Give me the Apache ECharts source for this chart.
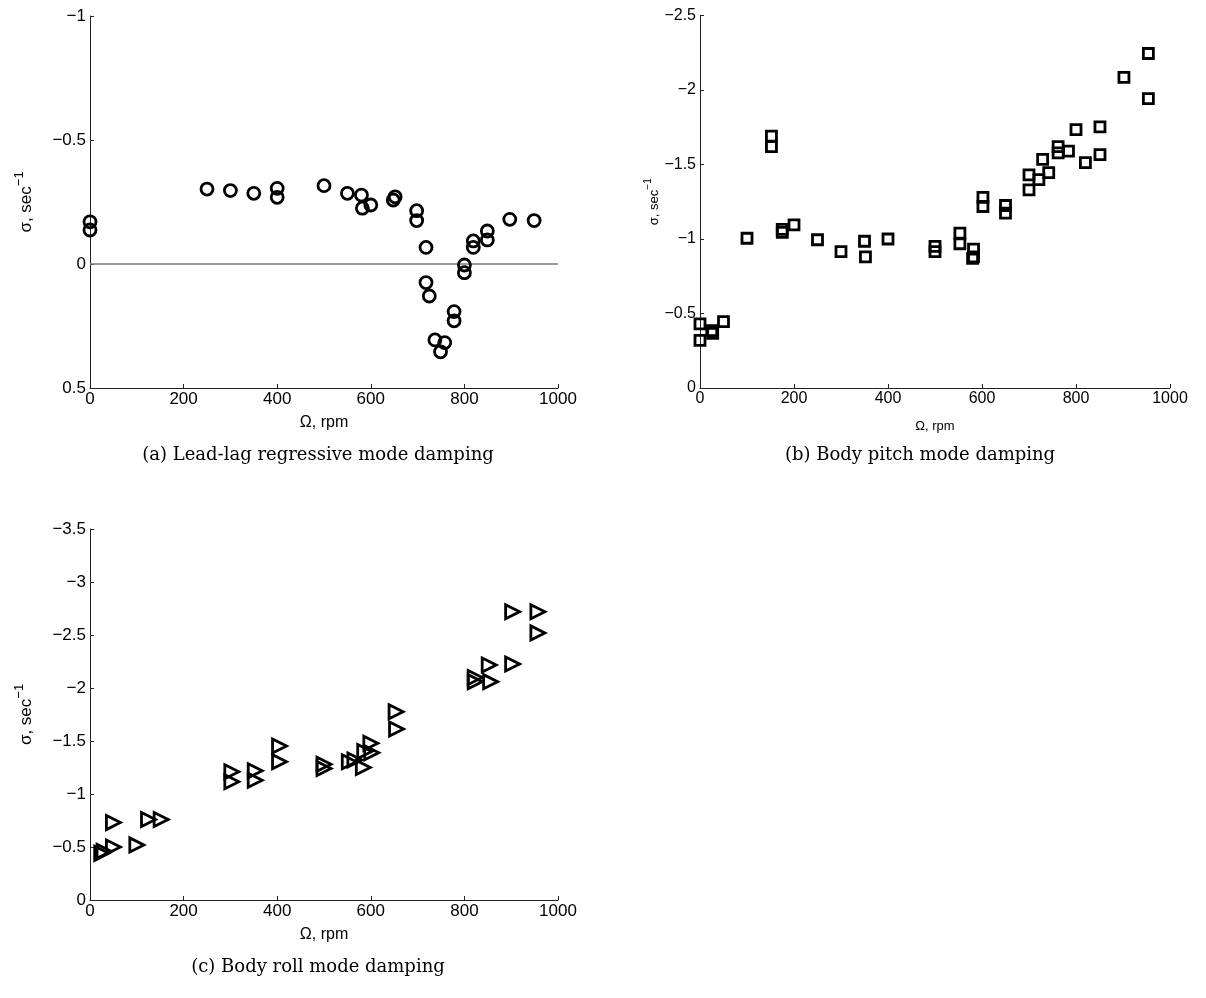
<!DOCTYPE html>
<html>
<head>
<meta charset="utf-8">
<script src="https://cdn.jsdelivr.net/npm/echarts@6/dist/echarts.min.js"></script>
<style>html,body{margin:0;padding:0;background:#fff;}#c{width:1206px;height:998px;}</style>
</head>
<body>
<div id="c"></div>
<script>
// Panel (a): lead-lag regressive mode damping  [rpm, sigma]
const leadLagData = [
  [0,-0.17],[0,-0.137],[250,-0.302],[300,-0.296],[350,-0.285],[400,-0.305],[400,-0.269],
  [500,-0.316],[550,-0.285],[580,-0.278],[582,-0.225],[600,-0.238],[648,-0.258],[652,-0.271],
  [698,-0.215],[698,-0.175],[718,-0.067],[718,0.075],[725,0.129],[737,0.306],[758,0.317],
  [749,0.354],[778,0.192],[778,0.229],[800,0.004],[800,0.035],[819,-0.093],[819,-0.067],
  [849,-0.133],[849,-0.097],[897,-0.18],[949,-0.175]
];
const zeroLine = [[0,0],[1000,0]];
// Panel (b): body pitch mode damping
const pitchData = [
  [0,-0.43],[0,-0.32],[25,-0.385],[27,-0.367],[50,-0.445],[100,-1.005],[175,-1.065],[175,-1.045],
  [200,-1.095],[250,-0.995],[300,-0.915],[350,-0.985],[352,-0.88],[400,-1.0],[500,-0.95],[500,-0.915],
  [152,-1.69],[152,-1.62],[553,-1.04],[553,-0.968],[582,-0.932],[582,-0.88],[580,-0.87],
  [602,-1.28],[602,-1.218],[650,-1.225],[650,-1.174],[700,-1.43],[700,-1.33],[721,-1.398],
  [729,-1.535],[742,-1.445],[762,-1.62],[762,-1.578],[784,-1.59],[800,-1.734],[820,-1.513],
  [851,-1.752],[851,-1.566],[902,-2.085],[954,-2.245],[954,-1.942]
];
// Panel (c): body roll mode damping
const rollData = [
  [25,-0.44],[30,-0.46],[50,-0.5],[50,-0.73],[100,-0.52],[125,-0.76],[152,-0.76],
  [303,-1.21],[303,-1.115],[353,-1.22],[353,-1.13],[405,-1.453],[405,-1.305],[500,-1.28],[500,-1.24],
  [554,-1.305],[566,-1.32],[584,-1.25],[587,-1.40],[600,-1.478],[602,-1.39],[654,-1.776],[655,-1.613],
  [823,-2.10],[823,-2.06],[853,-2.217],[856,-2.06],[903,-2.72],[903,-2.226],[957,-2.72],[957,-2.52]
];
const xTicks = [0,200,400,600,800,1000];
const captions = ['(a) Lead-lag regressive mode damping','(b) Body pitch mode damping','(c) Body roll mode damping'];
const xTitle = 'Ω, rpm';
const yTitleMain = 'σ, sec';
const yTitleSup = '−1';

const font = 'Liberation Sans, Arial, sans-serif';
const fmt = v => String(v).replace('-', '−');

function xAxis(gi, fs, nameFs, gap){
  return {type:'value', gridIndex:gi, min:xTicks[0], max:xTicks[xTicks.length-1], interval:xTicks[1]-xTicks[0],
    axisLine:{show:true, onZero:false, lineStyle:{color:'#222', width:1}},
    axisTick:{show:true, inside:true, length:4, lineStyle:{color:'#222'}},
    axisLabel:{color:'#000', fontSize:fs, fontFamily:font, margin:3, formatter:v => String(v)},
    splitLine:{show:false},
    name:xTitle, nameLocation:'middle', nameGap:gap, nameTextStyle:{color:'#000', fontSize:nameFs, fontFamily:font}};
}
function yAxis(gi, min, max, fs, nameFs, gap){
  return {type:'value', gridIndex:gi, min:min, max:max, interval:0.5, inverse:true,
    axisLine:{show:true, onZero:false, lineStyle:{color:'#222', width:1}},
    axisTick:{show:true, inside:true, length:4, lineStyle:{color:'#222'}},
    axisLabel:{color:'#000', fontSize:fs, fontFamily:font, margin:4, formatter:fmt},
    splitLine:{show:false},
    name:'{m|' + yTitleMain + '}{s|' + yTitleSup + '}', nameLocation:'middle', nameGap:gap, nameRotate:90,
    nameTextStyle:{color:'#000', fontFamily:font, rich:{
      m:{fontSize:nameFs, fontFamily:font, color:'#000', verticalAlign:'bottom'},
      s:{fontSize:Math.round(nameFs*0.75), fontFamily:font, color:'#000', verticalAlign:'top', padding:[0,0,Math.round(nameFs*0.55),0]}
    }}};
}

const chart = echarts.init(document.getElementById('c'), null, {renderer:'canvas'});
const capFont = '18px "DejaVu Serif", "Liberation Serif", serif';
chart.setOption({
  animation:false,
  backgroundColor:'#fff',
  grid:[
    {left:90, top:16, width:468, height:372},
    {left:700, top:15.5, width:470, height:372.5},
    {left:90, top:529, width:468, height:371}
  ],
  xAxis:[xAxis(0,17,16,27), xAxis(1,16,13,32), xAxis(2,17,16,27)],
  yAxis:[yAxis(0,-1,0.5,17,17,55), yAxis(1,-2.5,0,16,13,33), yAxis(2,-3.5,0,17,17,55)],
  graphic:[
    {type:'text', style:{text:captions[0], x:318, y:455, fill:'#000', font:capFont, textAlign:'center', textVerticalAlign:'middle'}},
    {type:'text', style:{text:captions[1], x:920, y:455, fill:'#000', font:capFont, textAlign:'center', textVerticalAlign:'middle'}},
    {type:'text', style:{text:captions[2], x:318, y:967, fill:'#000', font:capFont, textAlign:'center', textVerticalAlign:'middle'}}
  ],
  series:[
    {type:'line', xAxisIndex:0, yAxisIndex:0, data:zeroLine, symbol:'none', silent:true,
      lineStyle:{color:'#777', width:1.3}, z:1},
    {type:'scatter', xAxisIndex:0, yAxisIndex:0, data:leadLagData, symbol:'circle', symbolSize:12,
      itemStyle:{color:'rgba(255,255,255,0)', borderColor:'#000', borderWidth:2.8, opacity:1}, z:3},
    {type:'scatter', xAxisIndex:1, yAxisIndex:1, data:pitchData, symbol:'rect', symbolSize:10,
      itemStyle:{color:'rgba(255,255,255,0)', borderColor:'#000', borderWidth:2.8, opacity:1}, z:3},
    {type:'scatter', xAxisIndex:2, yAxisIndex:2, data:rollData, symbol:'triangle', symbolSize:[14,14], symbolRotate:-90,
      itemStyle:{color:'rgba(255,255,255,0)', borderColor:'#000', borderWidth:2.8, opacity:1}, z:3}
  ]
});
</script>
</body>
</html>
